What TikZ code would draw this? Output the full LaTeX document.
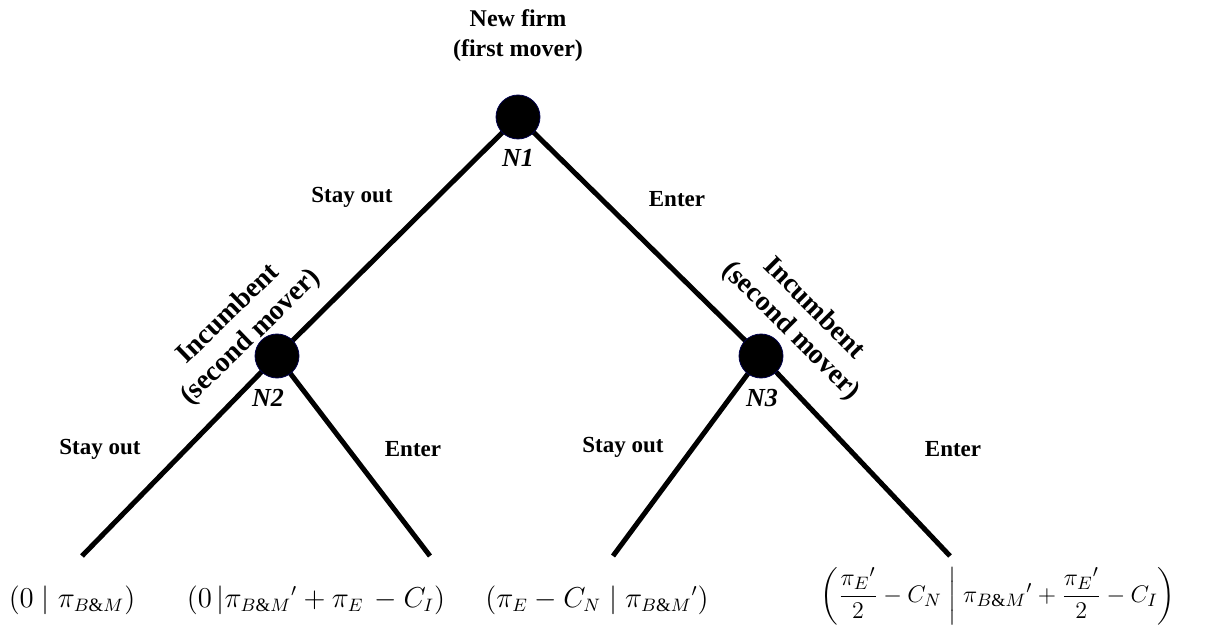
\documentclass[tikz,border=0pt]{standalone}
\usepackage{amsmath}
\usepackage{fontspec}
\setmainfont{Liberation Serif}
\usepackage{tikz}
\usetikzlibrary{positioning}
\tikzset{
	decnode/.style ={circle, fill=black, draw=black!70!blue, minimum size=22pt, inner sep=0pt},
	branch/.style  ={line width=2.5pt},
	movelbl/.style ={font=\fontsize{11.5}{13}\selectfont\bfseries},
	playerlbl/.style={font=\fontsize{12}{15}\selectfont\bfseries, align=center},
	nodelbl/.style ={font=\fontsize{13}{15}\selectfont\bfseries\itshape},
	payoff/.style  ={font=\fontsize{13.5}{16}\selectfont},
}

\begin{document}
\begin{tikzpicture}[x=0.5pt, y=-0.5pt]
	\useasboundingbox (0,0) rectangle (1208,625);
	% decision nodes
	\coordinate (N1) at (518,117);
	\coordinate (N2) at (277,356);
	\coordinate (N3) at (761,356);
	% end points
	\coordinate (L1) at (82,556);
	\coordinate (L2) at (430,556);
	\coordinate (L3) at (613,556);
	\coordinate (L4) at (950,556);
	\draw[branch] (N1) -- (N2);
	\draw[branch] (N1) -- (N3);
	\draw[branch] (N2) -- (L1);
	\draw[branch] (N2) -- (L2);
	\draw[branch] (N3) -- (L3);
	\draw[branch] (N3) -- (L4);
	\node[decnode] (d1) at (N1) {};
	\node[decnode] (d2) at (N2) {};
	\node[decnode] (d3) at (N3) {};
	% players
	\node[playerlbl] (p1) at (518,36) {New firm\\(first mover)};
	\node[playerlbl, font=\fontsize{14}{16}\selectfont\bfseries, rotate=44] (p2) at (240,326) {Incumbent\\(second mover)};
	\node[playerlbl, font=\fontsize{14}{16}\selectfont\bfseries, rotate=-45] (p3) at (802,320) {Incumbent\\(second mover)};
	\node[nodelbl] (n1) at (518,158) {N1};
	\node[nodelbl] (n2) at (268,398) {N2};
	\node[nodelbl] (n3) at (762,398) {N3};
	% moves
	\node[movelbl] (m1) at (352,197) {Stay out};
	\node[movelbl] (m2) at (677,199) {Enter};
	\node[movelbl] (m3) at (100,449) {Stay out};
	\node[movelbl] (m4) at (413,449) {Enter};
	\node[movelbl] (m5) at (623,447) {Stay out};
	\node[movelbl] (m6) at (953,449) {Enter};
	% payoffs
	\node[payoff] (o1) at (72,600) {$(0\mid\pi_{B\&M})$};
	\node[payoff] (o2) at (316,600) {$(0\,|\pi_{B\&M}{}'+\pi_E\,-C_I)$};
	\node[payoff] (o3) at (597,600) {$(\pi_E-C_N\mid\pi_{B\&M}{}')$};
	\node[payoff, font=\fontsize{13}{15}\selectfont] (o4) at (998,596) {$\left(\dfrac{{\pi_E}'}{2}-C_N\;\middle|\;\pi_{B\&M}{}'+\dfrac{{\pi_E}'}{2}-C_I\right)$};
\end{tikzpicture}
\end{document}
